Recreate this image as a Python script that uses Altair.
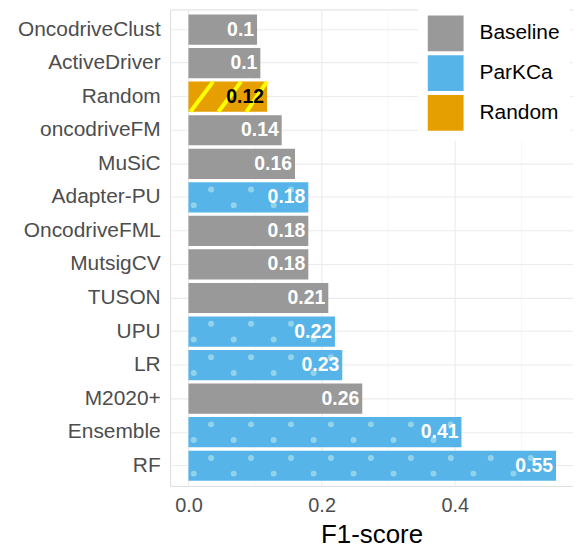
import altair as alt
import pandas as pd

# ---- data ----
methods = ["OncodriveClust", "ActiveDriver", "Random", "oncodriveFM", "MuSiC",
           "Adapter-PU", "OncodriveFML", "MutsigCV", "TUSON", "UPU", "LR",
           "M2020+", "Ensemble", "RF"]
groups = ["Baseline", "Baseline", "Random", "Baseline", "Baseline", "ParKCa",
          "Baseline", "Baseline", "Baseline", "ParKCa", "ParKCa", "Baseline",
          "ParKCa", "ParKCa"]
f1 = [0.103, 0.108, 0.118, 0.14, 0.16, 0.18, 0.18, 0.18, 0.21, 0.22, 0.231,
      0.261, 0.41, 0.552]
labels = ["0.1", "0.1", "0.12", "0.14", "0.16", "0.18", "0.18", "0.18", "0.21",
          "0.22", "0.23", "0.26", "0.41", "0.55"]
group_order = ["Baseline", "ParKCa", "Random"]
group_colors = ["#999999", "#56B4E9", "#E69F00"]
major_ticks = [0.0, 0.2, 0.4]
minor_ticks = [0.1, 0.3, 0.5]

# ---- pattern styling (fill decoration, not data) ----
DOT_STEP = 0.06
DOT_TOP_START = 0.034
DOT_BOT_START = 0.008
STRIPE_STEP = 0.042
STRIPE_RUN = 0.034
STRIPE_START = 0.003

df = pd.DataFrame({"method": methods, "group": groups, "f1": f1, "label": labels})

dots_top, dots_bot, stripes = [], [], []
for m, g, v in zip(methods, groups, f1):
    if g == "ParKCa":
        x = DOT_TOP_START
        while x < v - 0.006:
            dots_top.append({"method": m, "x": x})
            x += DOT_STEP
        x = DOT_BOT_START
        while x < v - 0.006:
            dots_bot.append({"method": m, "x": x})
            x += DOT_STEP
    if g == "Random":
        x = STRIPE_START
        while x < v - 0.005:
            stripes.append({"method": m, "x": x, "x2": min(x + STRIPE_RUN, v)})
            x += STRIPE_STEP

xscale = alt.Scale(domain=[-0.0275, 0.5775], nice=False, zero=False)
yscale = alt.Scale(paddingInner=0.1, paddingOuter=0.15)
FONT = "Liberation Sans"

minor = alt.Chart(pd.DataFrame({"v": minor_ticks})).mark_rule(
    color="#EFEFEF", strokeWidth=0.6
).encode(x=alt.X("v:Q", scale=xscale))

bars = alt.Chart(df).mark_bar().encode(
    y=alt.Y("method:N", sort=methods, scale=yscale,
            axis=alt.Axis(title=None, ticks=False, domain=False, grid=True,
                          gridColor="#EBEBEB", gridWidth=1.1,
                          labelFont=FONT, labelFontSize=21, labelColor="#4D4D4D",
                          labelPadding=10)),
    x=alt.X("f1:Q", scale=xscale,
            axis=alt.Axis(title="F1-score", values=major_ticks, format=".1f",
                          ticks=False, domain=False, grid=True,
                          gridColor="#EBEBEB", gridWidth=1.1,
                          labelFont=FONT, labelFontSize=20, labelColor="#4D4D4D",
                          labelPadding=10, titleFont=FONT, titleFontSize=26,
                          titleFontWeight="normal", titleColor="#000000",
                          titlePadding=6)),
    x2=alt.datum(0),
    color=alt.Color("group:N", scale=alt.Scale(domain=group_order, range=group_colors),
                    legend=alt.Legend(title=None, orient="none", legendX=249, legendY=-4,
                                      symbolType="square", symbolSize=1296,
                                      symbolStrokeWidth=0, symbolOpacity=1,
                                      rowPadding=4, labelOffset=16,
                                      labelFont=FONT, labelFontSize=21,
                                      labelColor="#000000", fillColor="white",
                                      padding=10)),
)

dot_top_layer = alt.Chart(pd.DataFrame(dots_top)).mark_point(
    filled=True, shape="circle", size=36, color="#93D3EA", opacity=1
).encode(
    y=alt.Y("method:N", sort=methods, scale=yscale, bandPosition=0.24),
    x=alt.X("x:Q", scale=xscale),
)
dot_bot_layer = alt.Chart(pd.DataFrame(dots_bot)).mark_point(
    filled=True, shape="circle", size=36, color="#93D3EA", opacity=1
).encode(
    y=alt.Y("method:N", sort=methods, scale=yscale, bandPosition=0.76),
    x=alt.X("x:Q", scale=xscale),
)
stripe_layer = alt.Chart(pd.DataFrame(stripes)).mark_rule(
    color="#FFFF00", strokeWidth=4
).encode(
    y=alt.Y("method:N", sort=methods, scale=yscale, bandPosition=1),
    y2=alt.Y2("method:N", bandPosition=0),
    x=alt.X("x:Q", scale=xscale),
    x2="x2:Q",
)

text = alt.Chart(df).mark_text(
    align="right", baseline="middle", dx=-3, font=FONT, fontSize=19.5, fontWeight="bold"
).encode(
    y=alt.Y("method:N", sort=methods, scale=yscale),
    x=alt.X("f1:Q", scale=xscale),
    text="label:N",
    color=alt.condition(alt.datum.group == "Random", alt.value("#000000"), alt.value("#FFFFFF")),
)

chart = alt.layer(minor, bars, dot_top_layer, dot_bot_layer, stripe_layer, text).properties(
    width=405, height=479,
    autosize=alt.AutoSizeParams(type="none"),
    padding={"left": 163, "top": 0, "right": 0, "bottom": 63},
).configure_view(stroke=None).configure(background="white")

chart.save("out.html", embed_options={"renderer": "svg", "actions": False})
